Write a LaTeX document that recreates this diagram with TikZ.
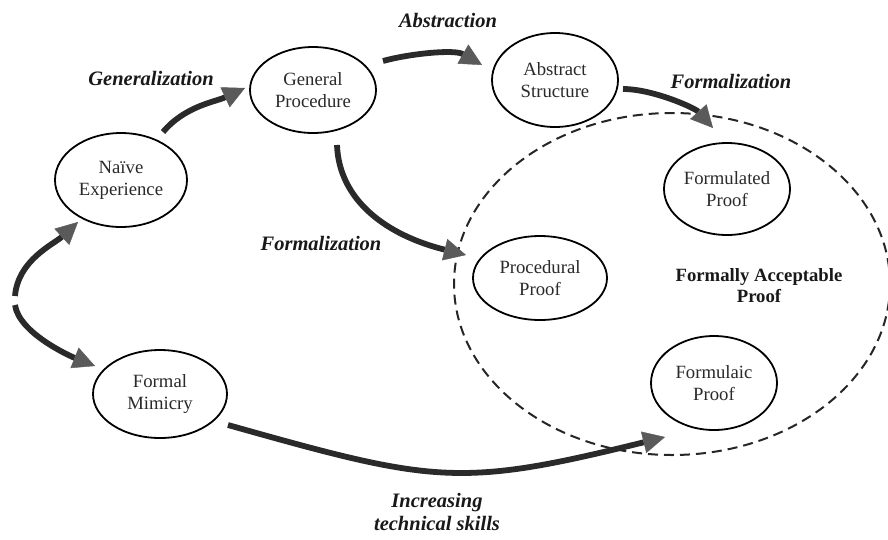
\documentclass[tikz,border=0pt]{standalone}
\usepackage{fontspec}
\setmainfont{Liberation Serif}
\usetikzlibrary{shapes.geometric,arrows.meta}
\definecolor{shaft}{HTML}{2A2A2A}
\definecolor{headgrey}{HTML}{5A5A5A}
\definecolor{txt}{HTML}{2A2A2A}
\begin{document}
\begin{tikzpicture}[x=1pt,y=-1pt,
  stage/.style={ellipse,draw=black,line width=1.8pt,inner sep=0pt,align=center,text=txt,
    font=\fontsize{18.7}{22}\selectfont},
  lbl/.style={font=\fontsize{20.5}{23}\selectfont\bfseries\itshape,text=black!90,inner sep=0pt},
  flow/.style={line width=5.8pt,draw=shaft,
    -{Triangle[length=22pt,width=22pt,line width=0.4pt,color=headgrey]}},
  region/.style={ellipse,draw=black!85,line width=2pt,dash pattern=on 10pt off 6pt,inner sep=0pt}]
\useasboundingbox (0,0) rectangle (888,539);
\fill[white] (0,0) rectangle (888,539);

% dashed region
\node[region,minimum width=436pt,minimum height=342pt] (fa) at (672,284) {};

% stages
\node[stage,minimum width=132pt,minimum height=94pt] (ne) at (121,180) {Naïve\\Experience};
\node[stage,minimum width=126pt,minimum height=86pt] (gp) at (313,90) {General\\Procedure};
\node[stage,minimum width=126pt,minimum height=94pt] (as) at (555,80) {Abstract\\Structure};
\node[stage,minimum width=126pt,minimum height=92pt] (fp) at (727,189) {Formulated\\Proof};
\node[stage,minimum width=134pt,minimum height=84pt] (pp) at (540,278) {Procedural\\Proof};
\node[stage,minimum width=126pt,minimum height=94pt] (fq) at (714,383) {Formulaic\\Proof};
\node[stage,minimum width=134pt,minimum height=88pt] (fm) at (160,394) {Formal\\Mimicry};

% labels
\node[lbl,anchor=base] (lgen) at (151,85) {Generalization};
\node[lbl,anchor=base] (labs) at (448,27) {Abstraction};
\node[lbl,anchor=base] (lform1) at (731,88) {Formalization};
\node[lbl,anchor=base] (lform2) at (321,250) {Formalization};
\node[lbl,align=center] (linc) at (437,512) {Increasing\\technical skills};
\node[font=\fontsize{18.7}{21}\selectfont\bfseries,text=black!90,align=center,inner sep=0pt] (lfap) at (759,286) {Formally Acceptable\\Proof};

% free start points
\coordinate (o1) at (15,296);
\coordinate (o2) at (15,305);

% arrows
\draw[flow] (o1) .. controls +(3,-36) and +(-24,22) .. ([shift={(-43,42)}]ne.center);
\draw[flow] (o2) .. controls +(4,28) and +(-25,-10) .. ([shift={(-65,-28)}]fm.center);
\draw[flow] ([shift={(42,-48)}]ne.center) .. controls +(22,-26) and +(-30,14) .. ([shift={(-68,-2)}]gp.center);
\draw[flow] ([shift={(70,-29)}]gp.center) .. controls +(25,-7) and +(-28,-16) .. ([shift={(-73,-15)}]as.center);
\draw[flow] ([shift={(68,9)}]as.center) .. controls +(30,0) and +(-18,-20) .. ([shift={(-14,-61)}]fp.center);
\draw[flow] ([shift={(24,55)}]gp.center) .. controls +(2,55) and +(-80,-20) .. ([shift={(-74,-23)}]pp.center);
\draw[flow] ([shift={(68,31)}]fm.center) .. controls +(206,58) and +(-206,51) .. ([shift={(-49,54)}]fq.center);
\end{tikzpicture}
\end{document}
